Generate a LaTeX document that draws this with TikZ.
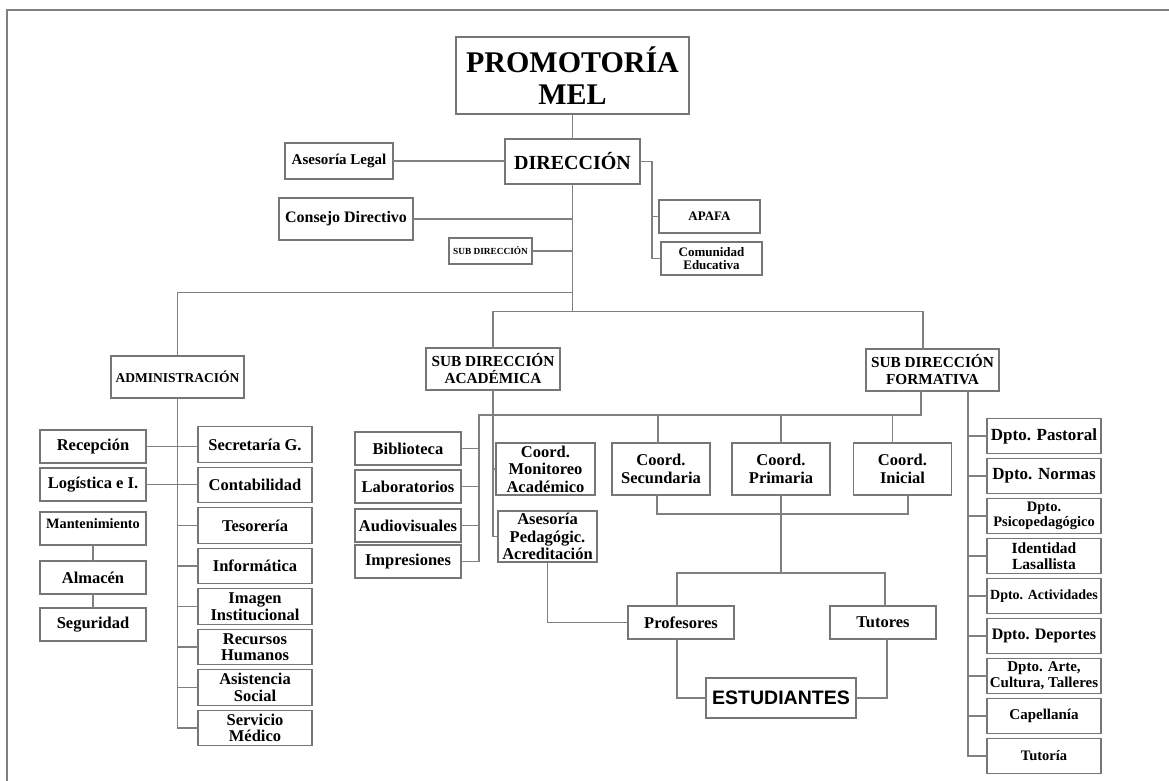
\documentclass[tikz,border=0pt]{standalone}
\usepackage{fontspec}
\setmainfont{Liberation Serif}
\newfontfamily\sansbold{Liberation Sans}
\usetikzlibrary{positioning}
\usetikzlibrary{calc}

\definecolor{boxgray}{RGB}{118,118,118}
\definecolor{linegray}{RGB}{128,128,128}
\newcommand{\bsize}[2]{\fontsize{#1}{#2}\selectfont\bfseries}

\begin{document}
\begin{tikzpicture}[
    x=1pt, y=-1pt,
    block/.style={rectangle, draw=boxgray, line width=1.2pt, fill=white, inner sep=0pt, outer sep=0pt, align=center, font=\bsize{16.5}{17.5}},
    conn/.style={draw=linegray, line width=1.2pt},
    admbox/.style={block, minimum width=114pt, minimum height=35.5pt},
    sidebox/.style={block, minimum width=106pt, minimum height=33pt},
    coordbox/.style={block, minimum width=98pt, minimum height=52pt},
    dptbox/.style={block, minimum width=114pt, minimum height=35.5pt},
]
    \useasboundingbox (0,0) rectangle (1169,781);
    \draw[conn, line width=1.4pt] (7,781) -- (7,10) -- (1169,10);

    \node[block, minimum width=233pt, minimum height=77pt, font=\bsize{30}{32}] (prom) at (572.5,75.5) {PROMOTORÍA\\MEL};
    \node[block, minimum width=135pt, minimum height=45pt, font=\bsize{20}{22}] (dir) at (572.5,161.5) {DIRECCIÓN};
    \node[block, minimum width=108pt, minimum height=36pt, font=\bsize{15}{16}] (legal) at (339,161) {Asesoría Legal};
    \node[block, minimum width=134pt, minimum height=42pt, font=\bsize{16}{17}] (consejo) at (346,219) {Consejo Directivo};
    \node[block, minimum width=83pt, minimum height=26pt, font=\bsize{9.3}{10}] (subdir) at (490.5,251) {SUB DIRECCIÓN};
    \node[block, minimum width=101pt, minimum height=33pt, font=\bsize{13}{14}] (apafa) at (709.5,216.5) {APAFA};
    \node[block, minimum width=101pt, minimum height=33pt, font=\bsize{13}{13}] (comun) [below=9pt of apafa, xshift=2pt] {Comunidad\\Educativa};

    \node[block, minimum width=133pt, minimum height=42pt, font=\bsize{13.5}{15}] (admin) at (177.5,377) {ADMINISTRACIÓN};
    \node[block, minimum width=134pt, minimum height=42pt, font=\bsize{15.3}{17}] (acad) at (493,369) {SUB DIRECCIÓN\\ACADÉMICA};
    \node[block, minimum width=133pt, minimum height=42pt, font=\bsize{15.3}{17}] (form) at (932.5,370) {SUB DIRECCIÓN\\FORMATIVA};

    % administracion
    \node[sidebox] (recep) at (93,446.5) {Recepción};
    \node[sidebox] (logis) [below=5pt of recep] {Logística e I.};
    \node[sidebox, font=\bsize{14.3}{15}, text height=10pt, text depth=10pt] (mant) [below=11pt of logis] {Mantenimiento};
    \node[sidebox] (almacen) [below=16pt of mant] {Almacén};
    \node[sidebox] (segur) [below=14pt of almacen] {Seguridad};

    \node[admbox] (secre) at (255,444.5) {Secretaría G.};
    \node[admbox] (conta) [below=5pt of secre] {Contabilidad};
    \node[admbox] (teso) [below=5pt of conta] {Tesorería};
    \node[admbox] (info) [below=5pt of teso] {Informática};
    \node[admbox, font=\bsize{16.5}{16.5}] (imagen) [below=5pt of info] {Imagen\\Institucional};
    \node[admbox, font=\bsize{16.5}{16.5}] (rrhh) [below=5pt of imagen] {Recursos\\Humanos};
    \node[admbox, font=\bsize{16.5}{16.5}] (asist) [below=5pt of rrhh] {Asistencia\\Social};
    \node[admbox, font=\bsize{16.5}{16.5}] (medico) [below=5pt of asist] {Servicio\\Médico};

    % academica
    \node[sidebox] (biblio) at (408,448.5) {Biblioteca};
    \node[sidebox] (labs) [below=5pt of biblio] {Laboratorios};
    \node[sidebox] (audio) [below=6pt of labs] {Audiovisuales};
    \node[sidebox] (impr) [below=3pt of audio] {Impresiones};
    \node[block, minimum width=99pt, minimum height=52pt] (monit) at (545.5,469) {Coord.\\Monitoreo\\Académico};
    \node[block, minimum width=99pt, minimum height=51pt] (aseso) [below=16pt of monit, xshift=2pt] {Asesoría\\Pedagógic.\\Acreditación};

    \node[coordbox] (csec) at (661,469) {Coord.\\Secundaria};
    \node[coordbox] (cprim) [right=22pt of csec] {Coord.\\Primaria};
    \node[coordbox] (cini) [right=23.5pt of cprim] {Coord.\\Inicial};

    \node[sidebox] (prof) at (681,622.5) {Profesores};
    \node[sidebox] (tutor) [right=96pt of prof] {Tutores};
    \node[block, minimum width=150pt, minimum height=40pt, font=\sansbold\bfseries\fontsize{19.5}{21}\selectfont] (estud) at (781,698) {ESTUDIANTES};

    % formativa
    \node[dptbox, font=\bsize{17}{18}] (pastoral) at (1044,436) {Dpto. Pastoral};
    \node[dptbox, font=\bsize{17}{18}] (normas) [below=4.5pt of pastoral] {Dpto. Normas};
    \node[dptbox, font=\bsize{14.5}{15}] (psico) [below=4.5pt of normas] {Dpto.\\Psicopedagógico};
    \node[dptbox, font=\bsize{15.5}{16}] (ident) [below=4.5pt of psico] {Identidad\\Lasallista};
    \node[dptbox, font=\bsize{14}{15}] (activ) [below=4.5pt of ident] {Dpto. Actividades};
    \node[dptbox, font=\bsize{16}{17}] (deport) [below=4.5pt of activ] {Dpto. Deportes};
    \node[dptbox, font=\bsize{15}{16}] (arte) [below=4.5pt of deport] {Dpto. Arte,\\Cultura, Talleres};
    \node[dptbox, font=\bsize{15}{16}] (capell) [below=4.5pt of arte] {Capellanía};
    \node[dptbox, font=\bsize{14.5}{15}] (tutoria) [below=4.5pt of capell] {Tutoría};

    % direccion
    \coordinate (dirR) at ($(dir.east)+(12,0)$);
    \coordinate (admJ) at ($(dir.south)+(0,108.5)$);
    \coordinate (subJ) at ($(dir.south)+(0,127.5)$);
    \draw[conn] (prom.south) -- (dir.north);
    \draw[conn] (legal.east) -- (legal.east -| dir.west);
    \draw[conn] (dir.east) -- (dirR) |- (comun.west);
    \draw[conn] (dirR |- apafa.west) -- (apafa.west);
    \draw[conn] (dir.south) -- (subJ);
    \draw[conn] (consejo.east) -- (consejo.east -| dir.south);
    \draw[conn] (subdir.east) -- (subdir.east -| dir.south);
    \draw[conn] (admJ) -| (admin.north);
    \draw[conn] (acad.north) |- (subJ) -| ($(form.north)+(-9.5,0)$);

    % administracion
    \draw[conn] (admin.south) |- (medico.west);
    \draw[conn] (recep.east) -- (recep.east -| secre.west);
    \draw[conn] (logis.east) -- (logis.east -| conta.west);
    \draw[conn] (teso.west) -- (teso.west -| admin.south);
    \draw[conn] (info.west) -- (info.west -| admin.south);
    \draw[conn] (imagen.west) -- (imagen.west -| admin.south);
    \draw[conn] (rrhh.west) -- (rrhh.west -| admin.south);
    \draw[conn] (asist.west) -- (asist.west -| admin.south);
    \draw[conn] (mant.south) -- (almacen.north);
    \draw[conn] (almacen.south) -- (segur.north);

    % academica
    \coordinate (acL) at (479,415);
    \coordinate (iniT) at ($(cini.north)+(-10,0)$);
    \draw[conn] (acad.south) |- (aseso.west);
    \draw[conn] (monit.west) -- (monit.west -| acad.south);
    \draw[conn] ($(form.south)+(-11.5,0)$) |- (acL) |- (impr.east);
    \draw[conn] (biblio.east) -- (biblio.east -| acL);
    \draw[conn] (labs.east) -- (labs.east -| acL);
    \draw[conn] (audio.east) -- (audio.east -| acL);
    \draw[conn] ($(csec.north)+(-3,0)$) -- ($(csec.north)+(-3,-28)$);
    \draw[conn] (cprim.north) -- (cprim.north |- acL);
    \draw[conn] (iniT) -- (iniT |- acL);

    \coordinate (cbL) at ($(csec.south)+(-4,19)$);
    \coordinate (cbR) at ($(cini.south)+(5.5,19)$);
    \coordinate (pj) at ($(cprim.south)+(0,78)$);
    \draw[conn] ($(csec.south)+(-4,0)$) -- (cbL) -- (cbR) -- ($(cini.south)+(5.5,0)$);
    \draw[conn] (cprim.south) -- (pj);
    \draw[conn] ($(prof.north)+(-4,0)$) |- (pj) -| ($(tutor.north)+(2,0)$);
    \draw[conn] (aseso.south) |- (prof.west);
    \draw[conn] ($(prof.south)+(-4,0)$) |- (estud.west);
    \draw[conn] ($(tutor.south)+(4,0)$) |- (estud.east);

    % formativa
    \coordinate (fT) at ($(form.south)+(35.5,0)$);
    \draw[conn] (fT) |- (tutoria.west);
    \draw[conn] (pastoral.west) -- (pastoral.west -| fT);
    \draw[conn] (normas.west) -- (normas.west -| fT);
    \draw[conn] (psico.west) -- (psico.west -| fT);
    \draw[conn] (ident.west) -- (ident.west -| fT);
    \draw[conn] (activ.west) -- (activ.west -| fT);
    \draw[conn] (deport.west) -- (deport.west -| fT);
    \draw[conn] (arte.west) -- (arte.west -| fT);
    \draw[conn] (capell.west) -- (capell.west -| fT);
\end{tikzpicture}
\end{document}
